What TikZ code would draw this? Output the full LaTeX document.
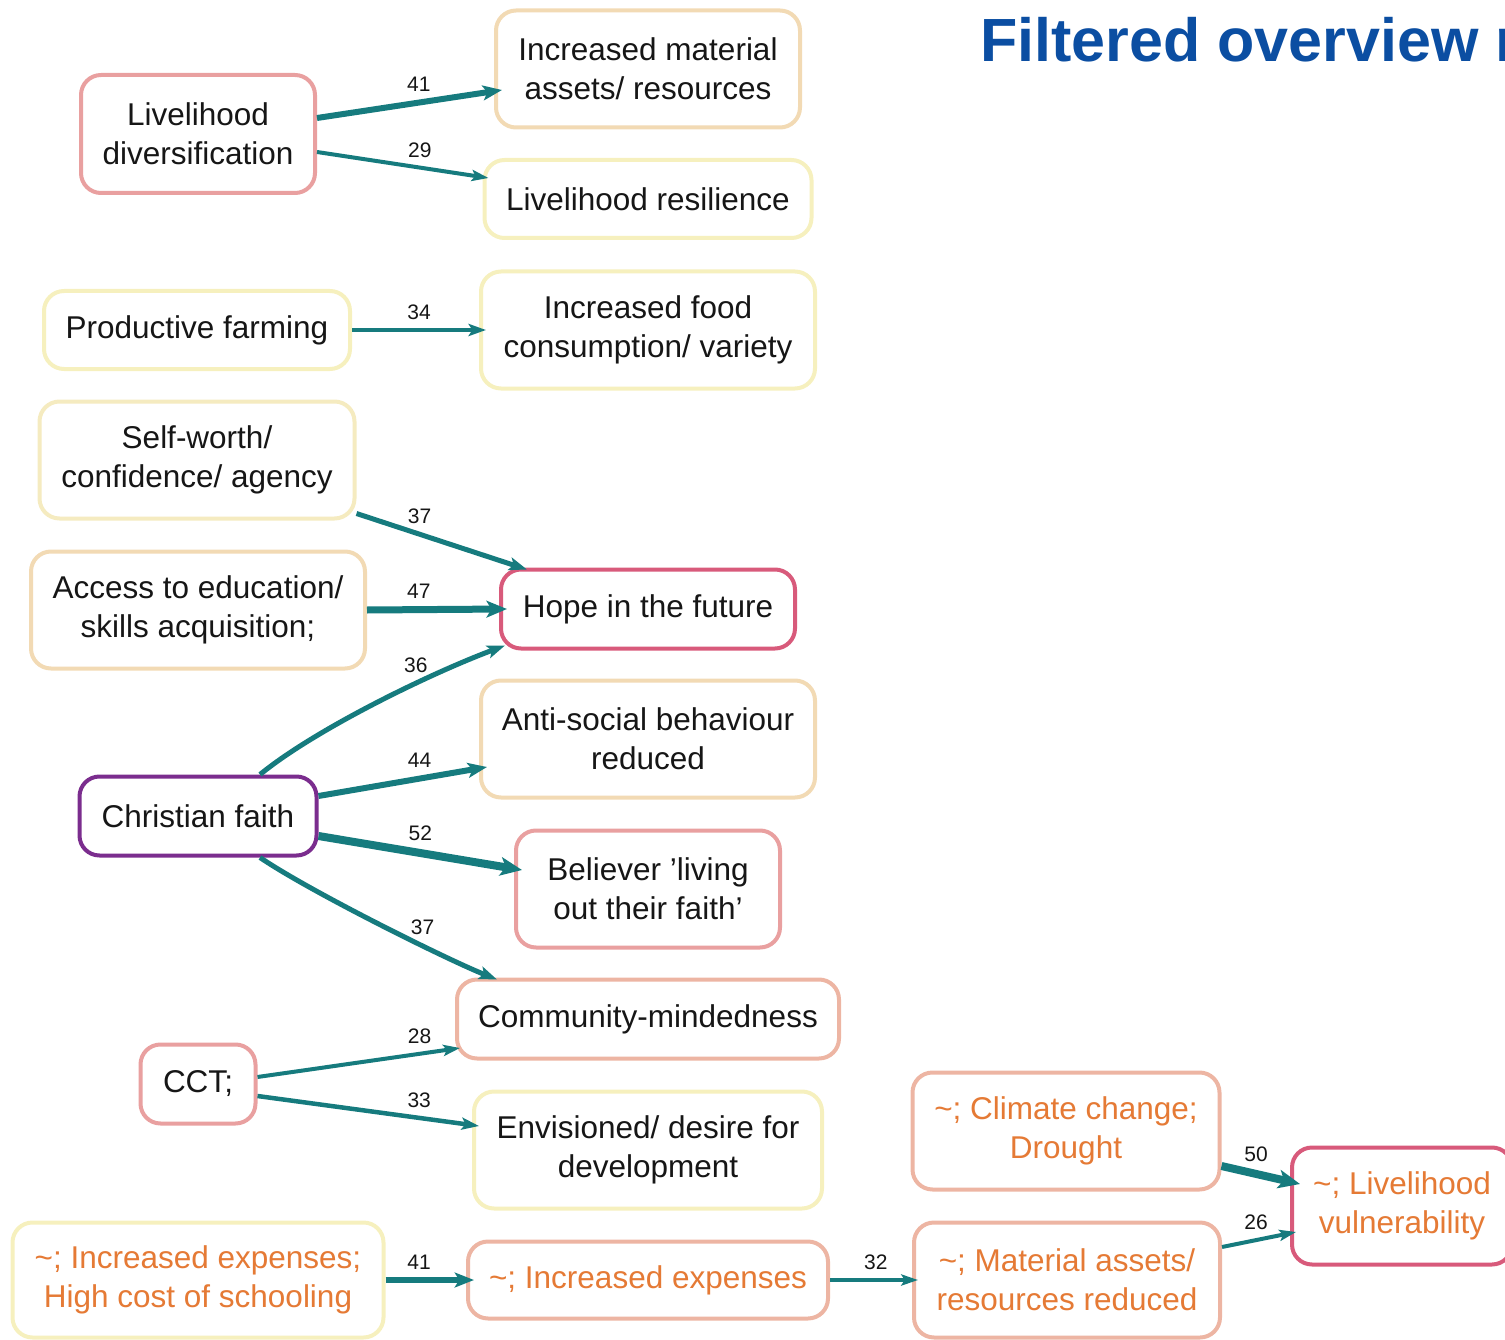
\documentclass[tikz,border=0pt]{standalone}
\usepackage{fontspec}
\setmainfont{Liberation Sans}
\usetikzlibrary{arrows.meta,calc}

\definecolor{ink}{HTML}{161616}
\definecolor{negtext}{HTML}{E57A35}
\definecolor{flowteal}{HTML}{167B7E}
\definecolor{titleblue}{HTML}{0B4EA2}
\definecolor{rosebd}{HTML}{E9A0A0}
\definecolor{tanbd}{HTML}{F2DAB4}
\definecolor{yellowbd}{HTML}{F6F0BE}
\definecolor{creambd}{HTML}{F5EBC0}
\definecolor{crimsonbd}{HTML}{D85A7B}
\definecolor{purplebd}{HTML}{7B2D8E}
\definecolor{salmonbd}{HTML}{EDB5A3}

\begin{document}
\begin{tikzpicture}[x=1pt,y=-1pt,
  box/.style={draw, line width=4pt, rounded corners=20pt, fill=white,
    align=center, inner sep=0pt, text=ink,
    font=\fontsize{31.5}{39}\selectfont},
  neg/.style={text=negtext},
  flow/.style={draw=flowteal, line width=#1pt,
    -{Stealth[length=12pt 1.2, width=4pt 1.8, inset=2pt 0.4]}},
  wt/.style={font=\fontsize{21}{24}\selectfont, text=ink, inner sep=0pt, above=8pt}
]
\useasboundingbox (0,0) rectangle (1505,1340);

% heading
\node[anchor=base west, inner sep=0pt, text=titleblue,
  font=\fontsize{61}{70}\selectfont\bfseries] (title) at (980,62) {Filtered overview m};

% factors and outcomes
\node[box, draw=rosebd, minimum width=234pt, minimum height=118pt] (ld) at (198,134) {Livelihood\\diversification};
\node[box, draw=tanbd, minimum width=304pt, minimum height=117pt] (ima) at (648,69) {Increased material\\assets/ resources};
\node[box, draw=yellowbd, minimum width=327pt, minimum height=78pt] (lr) at (648,199) {Livelihood resilience};
\node[box, draw=yellowbd, minimum width=306pt, minimum height=78pt] (pf) at (197,330) {Productive farming};
\node[box, draw=yellowbd, minimum width=334pt, minimum height=117pt] (ifc) at (648,330) {Increased food\\consumption/ variety};
\node[box, draw=creambd, minimum width=315pt, minimum height=117pt] (sw) at (197,460) {Self-worth/\\confidence/ agency};
\node[box, draw=tanbd, minimum width=334pt, minimum height=117pt] (ae) at (198,610) {Access to education/\\skills acquisition;};
\node[box, draw=crimsonbd, minimum width=294pt, minimum height=79pt] (hope) at (648,609) {Hope in the future};
\node[box, draw=tanbd, minimum width=334pt, minimum height=117pt] (asb) at (648,739) {Anti-social behaviour\\reduced};
\node[box, draw=purplebd, minimum width=237pt, minimum height=79pt] (cf) at (198,816) {Christian faith};
\node[box, draw=rosebd, minimum width=264pt, minimum height=117pt] (bel) at (648,889) {Believer ’living\\out their faith’};
\node[box, draw=salmonbd, minimum width=382pt, minimum height=79pt] (com) at (648,1019) {Community-mindedness};
\node[box, draw=rosebd, minimum width=115pt, minimum height=79pt] (cct) at (198,1084) {CCT;};
\node[box, draw=yellowbd, minimum width=348pt, minimum height=117pt] (env) at (648,1150) {Envisioned/ desire for\\development};
\node[box, neg, draw=salmonbd, minimum width=307pt, minimum height=117pt] (clim) at (1066,1131) {\textasciitilde; Climate change;\\Drought};
\node[box, neg, draw=crimsonbd, minimum width=220pt, minimum height=117pt] (lv) at (1402,1206) {\textasciitilde; Livelihood\\vulnerability};
\node[box, neg, draw=yellowbd, minimum width=371pt, minimum height=115pt] (ies) at (198,1280) {\textasciitilde; Increased expenses;\\High cost of schooling};
\node[box, neg, draw=salmonbd, minimum width=360pt, minimum height=77pt] (ie) at (648,1280) {\textasciitilde; Increased expenses};
\node[box, neg, draw=salmonbd, minimum width=306pt, minimum height=115pt] (mar) at (1067,1280) {\textasciitilde; Material assets/\\resources reduced};

% weighted links
\draw[flow=6] ($(ld.east)+(0,-16)$) -- node[wt, pos=0.55] {41} ($(ima.west)+(8,21)$);
\draw[flow=4] ($(ld.east)+(0,18)$) -- node[wt, pos=0.6] {29} ($(lr.west)+(6,-21)$);
\draw[flow=4.5] (pf.east) -- node[wt, pos=0.5] {34} ($(ifc.west)+(7,0)$);
\draw[flow=5] ($(sw.south east)+(0,-7)$) -- node[wt, pos=0.37] {37} ($(hope.north west)+(28,2)$);
\draw[flow=7] (ae.east) -- node[wt, pos=0.37] {47} ($(hope.west)+(8,0)$);
\draw[flow=5] ($(cf.north)+(62,0)$) .. controls +(55,-45) and +(-75,28) .. node[wt, pos=0.65] {36} ($(hope.south west)+(6,-5)$);
\draw[flow=6] ($(cf.east)+(0,-20)$) -- node[wt, pos=0.6] {44} ($(asb.west)+(8,28)$);
\draw[flow=8] ($(cf.east)+(0,20)$) -- node[wt, pos=0.5] {52} ($(bel.west)+(8,-19)$);
\draw[flow=5] ($(cf.south)+(62,0)$) .. controls +(50,34) and +(-50,-20) .. node[wt, pos=0.66] {37} ($(com.north west)+(42,2)$);
\draw[flow=4] ($(cct.east)+(0,-7)$) -- node[wt, pos=0.8] {28} ($(com.west)+(5,29)$);
\draw[flow=4.5] ($(cct.east)+(0,12)$) -- node[wt, pos=0.73] {33} ($(env.west)+(7,-24)$);
\draw[flow=6] (ies.east) -- node[wt, pos=0.38] {41} ($(ie.west)+(8,0)$);
\draw[flow=4] (ie.east) -- node[wt, pos=0.52] {32} ($(mar.west)+(6,0)$);
\draw[flow=8] ($(clim.east)+(0,35)$) -- node[wt, pos=0.44] {50} ($(lv.west)+(10,-22)$);
\draw[flow=4] ($(mar.east)+(0,-33)$) -- node[wt, pos=0.46] {26} ($(lv.west)+(6,26)$);
\end{tikzpicture}
\end{document}
